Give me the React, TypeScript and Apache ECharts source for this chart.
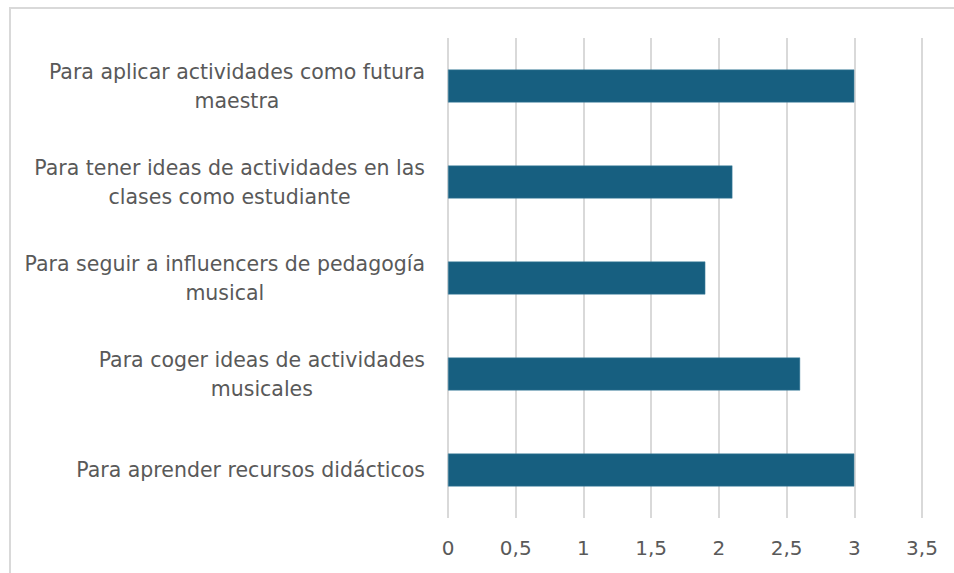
import React, { useEffect, useRef } from "react";
import * as echarts from "echarts";

const categories: string[] = [
  "Para aprender recursos didácticos",
  "Para coger ideas de actividades\nmusicales",
  "Para seguir a influencers de pedagogía\nmusical",
  "Para tener ideas de actividades en las\nclases como estudiante",
  "Para aplicar actividades como futura\nmaestra",
];
const values: number[] = [3, 2.6, 1.9, 2.1, 3];
const xTicks = { min: 0, max: 3.5, interval: 0.5 };

export default function App() {
  const ref = useRef<HTMLDivElement>(null);
  useEffect(() => {
    if (!ref.current) return;
    const chart = echarts.init(ref.current, null, { renderer: "svg" });
    const font = "DejaVu Sans";
    chart.setOption({
      animation: false,
      backgroundColor: "#ffffff",
      graphic: [
        {
          type: "rect",
          shape: { x: 10, y: 8, width: 1200, height: 1200 },
          style: { fill: "none", stroke: "#d9d9d9", lineWidth: 2 },
          silent: true,
        },
      ],
      grid: { left: 448, right: 32, top: 38, bottom: 55 },
      xAxis: {
        type: "value",
        min: xTicks.min,
        max: xTicks.max,
        interval: xTicks.interval,
        axisLine: { show: false },
        axisTick: { show: false },
        splitLine: { show: true, lineStyle: { color: "#d9d9d9", width: 2 } },
        axisLabel: {
          color: "#595959",
          fontFamily: font,
          fontSize: 20,
          margin: 20,
          formatter: (v: number) => String(v).replace(".", ","),
        },
      },
      yAxis: {
        type: "category",
        data: categories,
        axisLine: { show: false },
        axisTick: { show: false },
        axisLabel: {
          margin: 23,
          align: "right",
          formatter: (v: string) =>
            v
              .split("\n")
              .map((l) => `{c|${l}}`)
              .join("\n"),
          rich: {
            c: {
              align: "center",
              color: "#595959",
              fontFamily: font,
              fontSize: 20.5,
              lineHeight: 29,
            },
          },
        },
      },
      series: [
        {
          type: "bar",
          data: values,
          barWidth: 33,
          itemStyle: { color: "#175f80", borderColor: "#4a86a3", borderWidth: 0.5 },
        },
      ],
    });
    return () => chart.dispose();
  }, []);
  return (
    <div
      ref={ref}
      style={{ position: "absolute", left: 0, top: 0, width: 954, height: 573 }}
    />
  );
}
